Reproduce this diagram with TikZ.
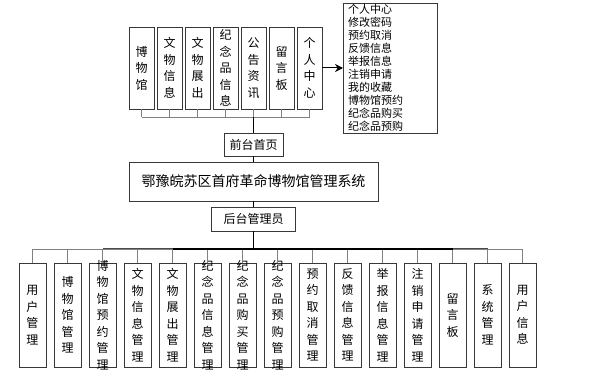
\documentclass[tikz,border=0pt]{standalone}
\usepackage{fontspec}
\setmainfont{Noto Sans CJK SC}
\usetikzlibrary{arrows.meta}
\begin{document}
\begin{tikzpicture}[x=1pt,y=-1pt,
  boxs/.style={draw=black!78,line width=0.9pt,inner sep=0pt},
  topbox/.style={boxs,minimum width=25pt,minimum height=82pt},
  botbox/.style={boxs,minimum width=27pt,minimum height=104pt},
  vtxt/.style={inner sep=0pt,align=center,font=\fontsize{12}{16.5}\selectfont},
  conn/.style={draw=black!50,line width=0.9pt},
  trunk/.style={draw=black,line width=1.2pt}]
\useasboundingbox (0,0) rectangle (595,374);
% top boxes
\foreach \i/\t in {1/{博\\物\\馆},2/{文\\物\\信\\息},3/{文\\物\\展\\出},4/{纪\\念\\品\\信\\息},5/{公\\告\\资\\讯},6/{留\\言\\板},7/{个\\人\\中\\心}}{
  \node[topbox] (t\i) at ({141.5+28*(\i-1)},68) {};
  \node[vtxt] (tt\i) at (t\i) {\t};
}
\coordinate (tbus) at (253.5,117);
\foreach \i in {1,...,7}{\draw[conn] (t\i.south) -- (t\i.south |- tbus);}
\draw[conn] (t1.south |- tbus) -- (t7.south |- tbus);
% list box
\node[boxs,minimum width=94pt,minimum height=130pt,anchor=north west] (list) at (343,3) {};
\node[inner sep=0pt,anchor=north west,align=left,font=\fontsize{11}{12.9}\selectfont] (listtxt) at (348,4.5)
 {个人中心\\修改密码\\预约取消\\反馈信息\\举报信息\\注销申请\\我的收藏\\博物馆预约\\纪念品购买\\纪念品预购};
\draw[line width=1pt,-{Stealth[length=8pt,width=8pt]}] (t7.east) -- (t7.east -| list.west);
% middle
\node[boxs,minimum width=59pt,minimum height=23pt,font=\fontsize{12}{14}\selectfont] (front) at (253.5,144.5) {前台首页};
\node[boxs,minimum width=249pt,minimum height=39pt,font=\fontsize{14}{16}\selectfont] (main) at (253.5,181.5) {鄂豫皖苏区首府革命博物馆管理系统};
\node[boxs,minimum width=84pt,minimum height=24pt,font=\fontsize{12}{14}\selectfont] (admin) at (253.5,219) {后台管理员};
\draw[trunk] (tbus) -- (front.north);
\draw[trunk] (front.south) -- (main.north);
\draw[trunk] (main.south) -- (admin.north);
% bottom boxes
\foreach \i/\t in {1/{用\\户\\管\\理},2/{博\\物\\馆\\管\\理},3/{博\\物\\馆\\预\\约\\管\\理},4/{文\\物\\信\\息\\管\\理},5/{文\\物\\展\\出\\管\\理},6/{纪\\念\\品\\信\\息\\管\\理},7/{纪\\念\\品\\购\\买\\管\\理},8/{纪\\念\\品\\预\\购\\管\\理},9/{预\\约\\取\\消\\管\\理},10/{反\\馈\\信\\息\\管\\理},11/{举\\报\\信\\息\\管\\理},12/{注\\销\\申\\请\\管\\理},13/{留\\言\\板},14/{系\\统\\管\\理},15/{用\\户\\信\\息}}{
  \node[botbox] (b\i) at ({32.5+35*(\i-1)},315) {};
  \node[vtxt] (bt\i) at (b\i) {\t};
}
\coordinate (bbus) at (253.5,249);
\foreach \i in {1,...,15}{\draw[conn] (b\i.north) -- (b\i.north |- bbus);}
\draw[conn] (b1.north |- bbus) -- (b15.north |- bbus);
\draw[draw=black!70,line width=1pt] (b3.north |- bbus) -- (b14.north |- bbus);
\draw[trunk] (b5.north |- bbus) -- (b13.north |- bbus);
\draw[trunk] (admin.south) -- (bbus);
\end{tikzpicture}
\end{document}
